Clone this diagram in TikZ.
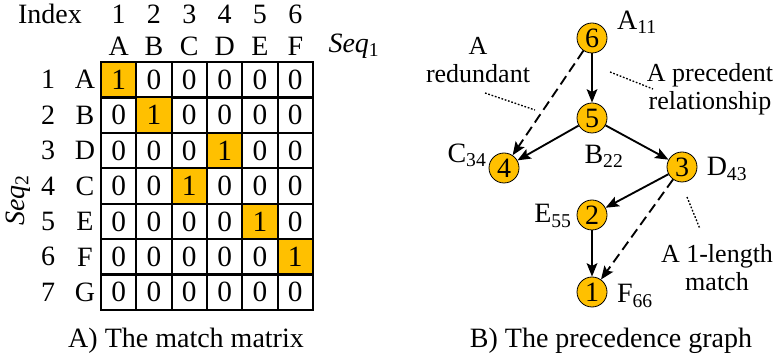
\documentclass[tikz,border=0pt]{standalone}
\usepackage{fontspec}
\setmainfont{Liberation Serif}
\usetikzlibrary{arrows.meta}

\tikzset{every picture/.style={line width=0.75pt}}
\tikzset{
  lbl/.style={inner sep=0.75pt,font=\fontsize{21}{24}\selectfont},
  note/.style={lbl,align=center,font=\fontsize{19.5}{22}\selectfont},
  cell/.style={draw,line width=1.6pt,minimum width=26.5pt,minimum height=26.6pt,inner sep=0pt,font=\fontsize{22}{24}\selectfont},
  hit/.style={cell,fill={rgb,255:red,255;green,192;blue,0}},
  vertex/.style={circle,draw,line width=0.6pt,fill={rgb,255:red,255;green,192;blue,0},minimum size=22.5pt,inner sep=0pt,font=\fontsize{21}{24}\selectfont},
  edge/.style={line width=1.4pt,-{Stealth[length=10pt,width=8pt,inset=2pt]}},
  redund/.style={edge,dash pattern={on 7.5pt off 4pt}},
  leader/.style={line width=1pt,dash pattern={on 1.3pt off 1.3pt}}
}

\begin{document}
\begin{tikzpicture}[x=0.75pt,y=0.75pt,yscale=-1,xscale=1]
\useasboundingbox (0,0) rectangle (774,359);

% A) match matrix
\node[lbl] (index) at (50,14) {Index};
\foreach \c/\l in {1/A,2/B,3/C,4/D,5/E,6/F}{
  \node[lbl] (ci\c) at ({101+35.33*(\c-0.5)},14) {\c};
  \node[lbl] (cl\c) at ({101+35.33*(\c-0.5)},46) {\l};
}
\node[lbl] (seqa) at (354,46) {\textit{Seq}\textsubscript{1}};
\foreach \r/\l in {1/A,2/B,3/D,4/C,5/E,6/F,7/G}{
  \node[lbl] (ri\r) at (48,{62+35.43*(\r-0.5)}) {\r};
  \node[lbl] (rl\r) at (85,{62+35.43*(\r-0.5)}) {\l};
}
\node[lbl,rotate=90] (seqb) at (18,200) {\textit{Seq}\textsubscript{2}};

\foreach \r/\m in {1/1,2/2,3/4,4/3,5/5,6/6,7/0}{
  \foreach \c in {1,...,6}{
    \ifnum\c=\m
      \node[hit] (m\r\c) at ({101+35.33*(\c-0.5)},{62+35.43*(\r-0.5)}) {1};
    \else
      \node[cell] (m\r\c) at ({101+35.33*(\c-0.5)},{62+35.43*(\r-0.5)}) {0};
    \fi
  }
}
\node[lbl] (capa) at (186,341) {A) The match matrix};

% B) precedence graph
\node[vertex] (n6) at (592,38) {6};
\node[vertex] (n5) at (592,118) {5};
\node[vertex] (n4) at (504,168) {4};
\node[vertex] (n3) at (682,167) {3};
\node[vertex] (n2) at (592,215) {2};
\node[vertex] (n1) at (592,292) {1};

\node[lbl] (la) at (637,22) {A\textsubscript{11}};
\node[lbl] (lb) at (604,156) {B\textsubscript{22}};
\node[lbl] (lc) at (467,155) {C\textsubscript{34}};
\node[lbl] (ld) at (727,169) {D\textsubscript{43}};
\node[lbl] (le) at (553,216) {E\textsubscript{55}};
\node[lbl] (lf) at (635,296) {F\textsubscript{66}};

\draw[edge] (n6) -- (n5);
\draw[edge] (n5) -- (n4);
\draw[edge] (n5) -- (n3);
\draw[edge] (n3) -- (n2);
\draw[edge] (n2) -- (n1);
\draw[redund] (n6) -- (n4);
\draw[redund] (n3) -- (n1);

\node[note] (tred) at (478,60) {A\\[-1pt]redundant};
\node[note] (tpre) at (710,89) {A precedent\\[-1pt]relationship};
\node[note] (tone) at (717,268) {A 1-length\\[-1pt]match};
\coordinate (pa) at (485,93);
\coordinate (pb) at (535,110);
\coordinate (pc) at (610,72);
\coordinate (pd) at (653,89);
\coordinate (pe) at (687,197);
\coordinate (pf) at (700,229);
\draw[leader] (pa) -- (pb);
\draw[leader] (pc) -- (pd);
\draw[leader] (pe) -- (pf);

\node[lbl] (capb) at (611,341) {B) The precedence graph};

\end{tikzpicture}
\end{document}
